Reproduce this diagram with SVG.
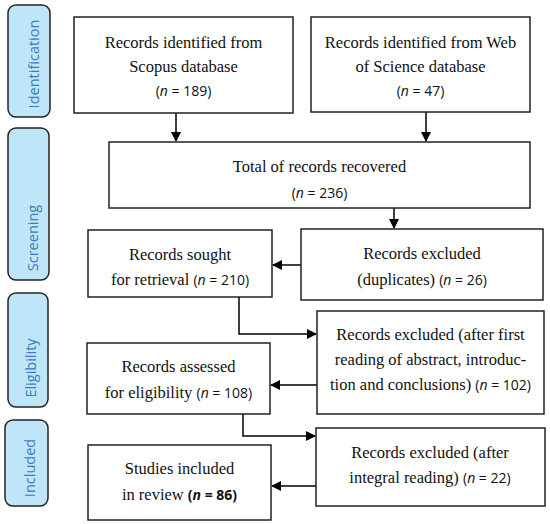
<svg xmlns="http://www.w3.org/2000/svg" width="550" height="524" viewBox="0 0 550 524">
<defs>
<marker id="ah" markerWidth="10" markerHeight="10" refX="9" refY="5" orient="auto" markerUnits="userSpaceOnUse">
<path d="M0,0 L10,5 L0,10 Z" fill="#000"/>
</marker>
<style>
.box{fill:#fff;stroke:#222;stroke-width:1.5}
.side{fill:#bfe6f8;stroke:#222;stroke-width:1.5}
.st{font-family:'Open Sans','Liberation Sans',sans-serif;font-size:14.5px;fill:#3a7cc0;text-anchor:middle}
.t{font-family:'Liberation Serif','DejaVu Serif',serif;font-size:16.5px;fill:#111;text-anchor:middle}
.n{font-family:'Open Sans','Liberation Sans',sans-serif;font-size:14px}
.i{font-style:italic}
.b{font-weight:bold}
.c{fill:none;stroke:#000;stroke-width:1.5}
</style>
</defs>
<rect width="550" height="524" fill="#fff"/>
<g id="side-identification"><rect class="side" x="8" y="5" width="42" height="112" rx="8"/><text class="st" transform="translate(39,64) rotate(-90)">Identification</text></g>
<g id="side-screening"><rect class="side" x="8" y="128" width="41" height="152" rx="8"/><text class="st" transform="translate(38,238) rotate(-90)">Screening</text></g>
<g id="side-eligibility"><rect class="side" x="8" y="293" width="40" height="114" rx="8"/><text class="st" transform="translate(36,368) rotate(-90)">Eligibility</text></g>
<g id="side-included"><rect class="side" x="5" y="420" width="43" height="86" rx="8"/><text class="st" transform="translate(35,468) rotate(-90)">Included</text></g>

<g id="connectors">
<line class="c" x1="176" y1="113" x2="176" y2="141" marker-end="url(#ah)"/>
<line class="c" x1="426" y1="112" x2="426" y2="141" marker-end="url(#ah)"/>
<line class="c" x1="394" y1="208" x2="394" y2="228" marker-end="url(#ah)"/>
<line class="c" x1="301" y1="265" x2="273" y2="265" marker-end="url(#ah)"/>
<polyline class="c" points="239,297 239,334 316,334" marker-end="url(#ah)"/>
<line class="c" x1="317" y1="385" x2="271" y2="385" marker-end="url(#ah)"/>
<polyline class="c" points="243,414 243,436 315,436" marker-end="url(#ah)"/>
<line class="c" x1="316" y1="486" x2="272" y2="486" marker-end="url(#ah)"/>
</g>

<g id="scopus"><rect class="box" x="74" y="17" width="219" height="96"/>
<text class="t" x="183.5" y="48">Records identified from</text>
<text class="t" x="183.5" y="72">Scopus database</text>
<text class="t" x="183.5" y="96"><tspan class="n">(<tspan class="i">n</tspan> = 189)</tspan></text></g>

<g id="wos"><rect class="box" x="311" y="17" width="219" height="95"/>
<text class="t" x="420.5" y="48">Records identified from Web</text>
<text class="t" x="420.5" y="72">of Science database</text>
<text class="t" x="420.5" y="96"><tspan class="n">(<tspan class="i">n</tspan> = 47)</tspan></text></g>

<g id="total"><rect class="box" x="109" y="142" width="421" height="66"/>
<text class="t" x="319.5" y="172">Total of records recovered</text>
<text class="t" x="319.5" y="198"><tspan class="n">(<tspan class="i">n</tspan> = 236)</tspan></text></g>

<g id="duplicates"><rect class="box" x="301" y="229" width="242" height="71"/>
<text class="t" x="422" y="259">Records excluded</text>
<text class="t" x="422" y="285">(duplicates) <tspan class="n">(<tspan class="i">n</tspan> = 26)</tspan></text></g>

<g id="sought"><rect class="box" x="88" y="230" width="184" height="67"/>
<text class="t" x="180" y="260">Records sought</text>
<text class="t" x="180" y="285">for retrieval <tspan class="n">(<tspan class="i">n</tspan> = 210)</tspan></text></g>

<g id="excluded-first"><rect class="box" x="317" y="311" width="227" height="103"/>
<text class="t" x="430.5" y="340">Records excluded (after first</text>
<text class="t" x="430.5" y="365">reading of abstract, introduc-</text>
<text class="t" x="430.5" y="390">tion and conclusions) <tspan class="n">(<tspan class="i">n</tspan> = 102)</tspan></text></g>

<g id="assessed"><rect class="box" x="87" y="343" width="183" height="71"/>
<text class="t" x="178.5" y="372">Records assessed</text>
<text class="t" x="178.5" y="398">for eligibility <tspan class="n">(<tspan class="i">n</tspan> = 108)</tspan></text></g>

<g id="excluded-integral"><rect class="box" x="316" y="428" width="229" height="78"/>
<text class="t" x="430" y="458">Records excluded (after</text>
<text class="t" x="430" y="483">integral reading) <tspan class="n">(<tspan class="i">n</tspan> = 22)</tspan></text></g>

<g id="included"><rect class="box" x="88" y="445" width="183" height="75"/>
<text class="t" x="179.5" y="474">Studies included</text>
<text class="t" x="179.5" y="500">in review <tspan class="n b">(<tspan class="i">n</tspan> = 86)</tspan></text></g>
</svg>
